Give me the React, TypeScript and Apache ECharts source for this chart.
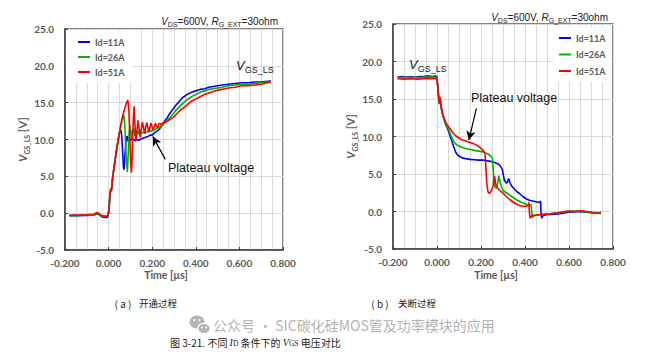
import React, { useEffect, useRef } from "react";
import * as echarts from "echarts";

// ---------- data ----------
const seriesNames = ["Id=11A", "Id=26A", "Id=51A"];
const seriesColors = ["#0000ff", "#00b400", "#ff0000"];

const xAxisMin = -0.2;
const xAxisMax = 0.8;
const xAxisStep = 0.2;
const yAxisMin = -5;
const yAxisMax = 25;
const yAxisStep = 5;

const subplotTags = ["( a )", "( b )"];
const subplotCaptions = ["开通过程", "关断过程"];

// (a) turn-on, time [us], V_GS_LS [V]
const turnOn11A: number[][] = [
  [-0.18, -0.35], [-0.16, -0.3], [-0.14, -0.35], [-0.12, -0.3], [-0.1, -0.3], [-0.08, -0.25],
  [-0.06, -0.2], [-0.05, -0.05], [-0.04, -0.3], [-0.03, -0.5], [-0.02, -0.55], [-0.01, -0.6],
  [-0.003, -0.5], [0.002, 0.5], [0.006, 2.4], [0.01, 3.2], [0.013, 3.0], [0.018, 4.6],
  [0.025, 6.2], [0.033, 7.8], [0.04, 9.2], [0.047, 10.5], [0.052, 11.2], [0.056, 11.3],
  [0.06, 10.6], [0.064, 8.5], [0.068, 6.3], [0.071, 5.9], [0.075, 7.9], [0.08, 9.9],
  [0.085, 10.5], [0.09, 9.7], [0.095, 10.2], [0.1, 9.9], [0.11, 10.1], [0.12, 9.9],
  [0.13, 10.0], [0.14, 9.9], [0.15, 10.1], [0.16, 10.2], [0.17, 10.3], [0.18, 10.4],
  [0.19, 10.6], [0.2, 10.6], [0.21, 10.9], [0.22, 11.1], [0.23, 11.3], [0.24, 11.7],
  [0.25, 12.1], [0.26, 12.6], [0.27, 13.0], [0.28, 13.5], [0.29, 13.9], [0.3, 14.3],
  [0.31, 14.7], [0.32, 15.0], [0.33, 15.4], [0.34, 15.7], [0.36, 16.1], [0.38, 16.4],
  [0.4, 16.6], [0.42, 16.8], [0.44, 16.9], [0.46, 17.1], [0.48, 17.2], [0.5, 17.3],
  [0.52, 17.4], [0.55, 17.5], [0.58, 17.6], [0.61, 17.7], [0.64, 17.7], [0.67, 17.8],
  [0.7, 17.8], [0.73, 17.9], [0.745, 17.95],
];
const turnOn26A: number[][] = [
  [-0.18, -0.3], [-0.15, -0.35], [-0.12, -0.25], [-0.09, -0.3], [-0.06, -0.15], [-0.05, 0.0],
  [-0.04, -0.25], [-0.03, -0.4], [-0.015, -0.45], [-0.003, -0.4], [0.002, 0.6], [0.006, 2.6],
  [0.01, 3.4], [0.013, 3.2], [0.018, 4.8], [0.025, 6.3], [0.033, 7.9], [0.04, 9.3],
  [0.047, 10.6], [0.054, 11.6], [0.06, 12.4], [0.066, 13.2], [0.07, 13.3], [0.074, 12.0],
  [0.078, 9.5], [0.082, 7.0], [0.086, 5.6], [0.09, 8.0], [0.094, 10.8], [0.098, 11.9],
  [0.102, 11.0], [0.106, 10.2], [0.11, 11.2], [0.115, 11.5], [0.12, 10.5], [0.125, 11.3],
  [0.13, 10.6], [0.135, 11.2], [0.14, 10.7], [0.145, 11.1], [0.15, 10.8], [0.16, 11.0],
  [0.17, 10.9], [0.18, 11.1], [0.19, 11.1], [0.2, 11.2], [0.21, 11.3], [0.22, 11.5],
  [0.23, 11.6], [0.24, 11.8], [0.25, 12.0], [0.26, 12.3], [0.27, 12.6], [0.28, 12.9],
  [0.29, 13.3], [0.3, 13.6], [0.31, 14.0], [0.32, 14.3], [0.33, 14.6], [0.34, 14.9],
  [0.36, 15.4], [0.38, 15.8], [0.4, 16.1], [0.42, 16.4], [0.44, 16.6], [0.46, 16.8],
  [0.48, 16.9], [0.5, 17.0], [0.52, 17.1], [0.55, 17.3], [0.58, 17.4], [0.61, 17.5],
  [0.64, 17.5], [0.67, 17.6], [0.7, 17.7], [0.73, 17.8], [0.745, 17.9],
];
const turnOn51A: number[][] = [
  [-0.18, -0.3], [-0.15, -0.25], [-0.12, -0.3], [-0.09, -0.2], [-0.07, -0.2], [-0.055, 0.1],
  [-0.045, 0.0], [-0.035, -0.3], [-0.02, -0.4], [-0.005, -0.4], [0.002, 0.5], [0.006, 2.5],
  [0.01, 3.3], [0.013, 3.1], [0.018, 4.7], [0.025, 6.2], [0.033, 7.8], [0.04, 9.2],
  [0.047, 10.4], [0.055, 11.8], [0.062, 12.9], [0.07, 13.8], [0.078, 14.6], [0.085, 15.2],
  [0.089, 15.3], [0.093, 14.0], [0.097, 10.5], [0.101, 7.0], [0.105, 5.5], [0.109, 8.5],
  [0.113, 12.5], [0.117, 14.5], [0.121, 12.0], [0.125, 9.7], [0.13, 11.0], [0.135, 12.6],
  [0.14, 11.5], [0.145, 10.3], [0.15, 11.4], [0.155, 12.4], [0.16, 11.6], [0.165, 10.8],
  [0.17, 11.6], [0.175, 12.3], [0.18, 11.7], [0.185, 11.0], [0.19, 11.7], [0.195, 12.2],
  [0.2, 11.7], [0.205, 11.3], [0.21, 11.8], [0.215, 12.2], [0.22, 11.8], [0.225, 11.6],
  [0.23, 12.1], [0.235, 12.2], [0.24, 12.0], [0.25, 12.3], [0.26, 12.3], [0.27, 12.5],
  [0.28, 12.7], [0.29, 12.9], [0.3, 13.1], [0.31, 13.4], [0.32, 13.7], [0.33, 14.0],
  [0.34, 14.2], [0.36, 14.7], [0.38, 15.2], [0.4, 15.5], [0.42, 15.8], [0.44, 16.1],
  [0.46, 16.3], [0.48, 16.5], [0.5, 16.7], [0.52, 16.8], [0.55, 17.0], [0.58, 17.1],
  [0.61, 17.3], [0.64, 17.3], [0.67, 17.4], [0.7, 17.5], [0.73, 17.7], [0.745, 17.8],
];

// (b) turn-off
const turnOff11A: number[][] = [
  [-0.18, 17.9], [-0.16, 18.0], [-0.14, 17.9], [-0.12, 18.0], [-0.1, 17.9], [-0.08, 18.0],
  [-0.06, 18.0], [-0.04, 18.1], [-0.02, 18.0], [-0.005, 18.1], [0.0, 17.9], [0.004, 16.5],
  [0.008, 15.0], [0.011, 14.3], [0.014, 15.2], [0.018, 14.0], [0.025, 13.0], [0.035, 12.0],
  [0.045, 11.2], [0.055, 10.5], [0.065, 9.6], [0.075, 8.7], [0.085, 7.9], [0.095, 7.5],
  [0.105, 7.3], [0.115, 7.15], [0.13, 7.05], [0.15, 6.95], [0.17, 6.9], [0.19, 6.85],
  [0.21, 6.85], [0.23, 6.75], [0.25, 6.65], [0.265, 6.5], [0.28, 6.3], [0.29, 6.0],
  [0.297, 5.6], [0.302, 4.8], [0.306, 4.2], [0.31, 4.0], [0.315, 3.8], [0.32, 3.9],
  [0.326, 4.4], [0.331, 3.9], [0.337, 3.5], [0.345, 3.2], [0.355, 2.9], [0.365, 2.6],
  [0.375, 2.4], [0.39, 2.0], [0.405, 1.7], [0.42, 1.5], [0.435, 1.4], [0.45, 1.3],
  [0.46, 1.2], [0.468, 1.3], [0.471, 1.4], [0.473, -0.3], [0.476, -0.9], [0.48, -0.6],
  [0.49, -0.5], [0.5, -0.4], [0.52, -0.4], [0.54, -0.35], [0.56, -0.3], [0.58, -0.2],
  [0.6, -0.1], [0.62, -0.05], [0.64, 0.0], [0.66, -0.05], [0.68, -0.1], [0.7, -0.15],
  [0.72, -0.2], [0.74, -0.15], [0.745, -0.05],
];
const turnOff26A: number[][] = [
  [-0.18, 17.9], [-0.15, 17.85], [-0.12, 17.9], [-0.09, 17.85], [-0.06, 17.9], [-0.03, 17.95],
  [-0.005, 17.9], [0.0, 17.8], [0.004, 16.4], [0.008, 15.0], [0.011, 14.4], [0.014, 15.2],
  [0.018, 14.0], [0.025, 13.0], [0.035, 12.0], [0.045, 11.3], [0.055, 10.8], [0.065, 10.0],
  [0.075, 9.4], [0.085, 9.0], [0.095, 8.8], [0.11, 8.6], [0.13, 8.4], [0.15, 8.3],
  [0.17, 8.15], [0.19, 8.05], [0.21, 7.95], [0.23, 7.7], [0.245, 7.4], [0.252, 7.0],
  [0.256, 5.5], [0.259, 3.9], [0.265, 3.2], [0.27, 3.1], [0.275, 3.6], [0.281, 4.8],
  [0.286, 4.0], [0.292, 3.4], [0.3, 2.8], [0.31, 2.6], [0.32, 2.4], [0.335, 2.1],
  [0.35, 1.8], [0.365, 1.5], [0.38, 1.3], [0.395, 1.1], [0.41, 0.9], [0.42, 0.85],
  [0.428, 0.9], [0.431, -0.3], [0.434, -0.8], [0.44, -0.6], [0.45, -0.5], [0.47, -0.4],
  [0.49, -0.35], [0.51, -0.3], [0.53, -0.25], [0.55, -0.2], [0.57, -0.1], [0.59, 0.0],
  [0.61, 0.05], [0.63, 0.0], [0.65, 0.05], [0.67, -0.05], [0.69, -0.1], [0.71, -0.15],
  [0.73, -0.15], [0.745, -0.2],
];
const turnOff51A: number[][] = [
  [-0.18, 17.7], [-0.15, 17.65], [-0.12, 17.7], [-0.09, 17.65], [-0.06, 17.7], [-0.03, 17.75],
  [-0.005, 17.7], [0.0, 17.6], [0.004, 16.4], [0.008, 15.0], [0.011, 14.5], [0.014, 15.3],
  [0.018, 14.1], [0.025, 13.1], [0.035, 12.2], [0.045, 11.6], [0.055, 11.2], [0.065, 10.8],
  [0.075, 10.4], [0.085, 10.1], [0.095, 9.9], [0.11, 9.6], [0.13, 9.4], [0.15, 9.2],
  [0.165, 9.05], [0.18, 8.85], [0.195, 8.55], [0.21, 8.15], [0.218, 7.7], [0.222, 6.0],
  [0.226, 3.8], [0.232, 2.6], [0.238, 2.4], [0.246, 2.7], [0.254, 3.3], [0.262, 4.7],
  [0.266, 3.8], [0.272, 3.2], [0.28, 3.0], [0.29, 2.7], [0.3, 2.45], [0.315, 2.0],
  [0.33, 1.6], [0.345, 1.3], [0.36, 1.0], [0.375, 0.8], [0.39, 0.7], [0.405, 0.7],
  [0.415, 0.8], [0.418, 1.2], [0.42, -0.2], [0.423, -0.9], [0.43, -0.6], [0.44, -0.5],
  [0.46, -0.45], [0.48, -0.4], [0.5, -0.35], [0.52, -0.3], [0.54, -0.2], [0.56, -0.1],
  [0.58, 0.0], [0.6, 0.05], [0.62, 0.0], [0.64, 0.05], [0.66, 0.1], [0.68, 0.0],
  [0.7, -0.1], [0.72, -0.2], [0.745, -0.25],
];

const turnOnSeries = [turnOn11A, turnOn26A, turnOn51A];
const turnOffSeries = [turnOff11A, turnOff26A, turnOff51A];

// annotation arrows (data coordinates: tail -> head)
const plateauArrowOn = [[0.26, 7.3], [0.203, 10.4]];
const plateauArrowOff = [[0.179, 13.76], [0.145, 9.53]];

// ---------- styles ----------
const GRAY = "#595959";
const GRID_LINE = "#d9d9d9";
const AXIS_FONT = "Lato";

function fmtX(v: number) {
  const n = Math.abs(v) < 1e-9 ? 0 : v;
  return n.toFixed(3);
}
function fmtY(v: number) {
  const n = Math.abs(v) < 1e-9 ? 0 : v;
  return n.toFixed(1);
}

function makeXAxis(gridIndex: number) {
  return {
    type: "value",
    gridIndex,
    min: xAxisMin,
    max: xAxisMax,
    interval: xAxisStep,
    axisLine: { show: true, onZero: false, lineStyle: { color: "#404040", width: 1.5 } },
    axisTick: { show: true, inside: true, length: 3, lineStyle: { color: "#404040" } },
    axisLabel: {
      color: GRAY,
      fontSize: 10,
      fontWeight: "bold",
      fontFamily: AXIS_FONT,
      margin: 8,
      formatter: fmtX,
    },
    splitLine: { show: true, lineStyle: { color: GRID_LINE, width: 1 } },
    minorTick: { show: false, splitNumber: 4 },
    minorSplitLine: { show: true, lineStyle: { color: GRID_LINE, width: 1 } },
  };
}

function makeYAxis(gridIndex: number) {
  return {
    type: "value",
    gridIndex,
    min: yAxisMin,
    max: yAxisMax,
    interval: yAxisStep,
    axisLine: { show: true, onZero: false, lineStyle: { color: "#404040", width: 1.5 } },
    axisTick: { show: true, inside: true, length: 3, lineStyle: { color: "#404040" } },
    axisLabel: {
      color: GRAY,
      fontSize: 10,
      fontWeight: "bold",
      fontFamily: AXIS_FONT,
      margin: 11,
      formatter: fmtY,
    },
    splitLine: { show: true, lineStyle: { color: GRID_LINE, width: 1 } },
    name: "{v|V}{s|GS_LS}{n| [V]}",
    nameLocation: "middle",
    nameRotate: 90,
    nameGap: 33,
    nameTextStyle: {
      rich: {
        v: { fontSize: 11, fontStyle: "italic", fontWeight: "bold", color: GRAY, fontFamily: AXIS_FONT, lineHeight: 15 },
        s: { fontSize: 7, fontWeight: "bold", color: GRAY, fontFamily: AXIS_FONT, lineHeight: 8, verticalAlign: "bottom" },
        n: { fontSize: 11, fontWeight: "bold", color: GRAY, fontFamily: AXIS_FONT, lineHeight: 15 },
      },
    },
  };
}

function subRich(base: number, sub: number, color: string, family: string, lh: number) {
  return {
    i: { fontSize: base, fontStyle: "italic", fontFamily: family, fill: color, color, lineHeight: lh },
    s: { fontSize: sub, fontFamily: family, fill: color, color, lineHeight: sub + 1, verticalAlign: "bottom" },
    n: { fontSize: base, fontFamily: family, fill: color, color, lineHeight: lh },
  };
}

function makeSeries(groups: number[][][], axisIndex: number, arrow: number[][]) {
  return groups.map((data, k) => {
    const s: any = {
      type: "line",
      name: seriesNames[k],
      xAxisIndex: axisIndex,
      yAxisIndex: axisIndex,
      data,
      symbol: "none",
      showSymbol: false,
      smooth: false,
      lineStyle: { width: 1.6, color: seriesColors[k] },
      itemStyle: { color: seriesColors[k] },
      z: 3 + k,
    };
    if (k === groups.length - 1) {
      s.markLine = {
        silent: true,
        symbol: ["none", "arrow"],
        symbolSize: [7, 9],
        lineStyle: { color: "#000", width: 1.2, type: "solid" },
        label: { show: false },
        emphasis: { disabled: true },
        data: [[{ coord: arrow[0] }, { coord: arrow[1] }]],
      };
    }
    return s;
  });
}

const legendBase = {
  orient: "vertical",
  icon: "rect",
  itemWidth: 12,
  itemHeight: 2,
  backgroundColor: "#fff",
  selectedMode: false,
  textStyle: { color: GRAY, fontSize: 9, fontWeight: "bold", fontFamily: AXIS_FONT, lineHeight: 12 },
  data: seriesNames,
};

function buildOption() {
  const titleRich = subRich(10, 7, "#1a1a1a", "Liberation Sans", 14);
  const labelRich = subRich(13, 9, "#1a1a1a", "Liberation Sans", 18);
  const titleText = "{i|V}{s|DS}{n|=600V, }{i|R}{s|G_EXT}{n|=30ohm}";
  const vgsText = "{i|V}{s|GS_LS}";
  const axisNameStyle = { fill: GRAY, fontSize: 10.5, fontWeight: "bold", fontFamily: AXIS_FONT };
  const captionFont = "Noto Sans CJK SC";

  return {
    animation: false,
    backgroundColor: "#fff",
    grid: [
      { left: 65, top: 29, width: 218, height: 221, show: true, borderColor: "#595959", borderWidth: 1.5, containLabel: false },
      { left: 393, top: 24, width: 220, height: 225, show: true, borderColor: "#595959", borderWidth: 1.5, containLabel: false },
    ],
    xAxis: [makeXAxis(0), makeXAxis(1)],
    yAxis: [makeYAxis(0), makeYAxis(1)],
    legend: [
      { ...legendBase, left: 66, top: 31, padding: [5, 8, 5, 12], itemGap: 3 },
      { ...legendBase, left: 553, top: 27, padding: [5, 6, 5, 6], itemGap: 4.5 },
    ],
    series: [...makeSeries(turnOnSeries, 0, plateauArrowOn), ...makeSeries(turnOffSeries, 1, plateauArrowOff)],
    graphic: [
      // condition titles
      { type: "text", z: 10, style: { x: 278, y: 21, text: titleText, rich: titleRich, align: "right", verticalAlign: "middle" } },
      { type: "text", z: 10, style: { x: 608, y: 17, text: titleText, rich: titleRich, align: "right", verticalAlign: "middle" } },
      // V_GS_LS labels
      { type: "text", z: 10, style: { x: 236, y: 65, text: vgsText, rich: labelRich, align: "left", verticalAlign: "middle" } },
      { type: "text", z: 10, style: { x: 409, y: 64, text: vgsText, rich: labelRich, align: "left", verticalAlign: "middle" } },
      // plateau labels
      { type: "text", z: 10, style: { x: 168, y: 168, text: "Plateau voltage", fill: "#111", fontSize: 12.5, fontFamily: "Liberation Sans", align: "left", verticalAlign: "middle" } },
      { type: "text", z: 10, style: { x: 471, y: 98, text: "Plateau voltage", fill: "#111", fontSize: 12.5, fontFamily: "Liberation Sans", align: "left", verticalAlign: "middle" } },
      // x axis names
      { type: "text", z: 10, style: { x: 166, y: 275, text: "Time [µs]", ...axisNameStyle, align: "center", verticalAlign: "middle" } },
      { type: "text", z: 10, style: { x: 496, y: 275, text: "Time [µs]", ...axisNameStyle, align: "center", verticalAlign: "middle" } },
      // subplot captions
      { type: "text", z: 10, style: { x: 123, y: 303, text: subplotTags[0], fill: "#222", fontSize: 10, fontFamily: captionFont, align: "center", verticalAlign: "middle" } },
      { type: "text", z: 10, style: { x: 139, y: 303, text: subplotCaptions[0], fill: "#222", fontSize: 9.5, fontFamily: captionFont, align: "left", verticalAlign: "middle" } },
      { type: "text", z: 10, style: { x: 380, y: 303, text: subplotTags[1], fill: "#222", fontSize: 10, fontFamily: captionFont, align: "center", verticalAlign: "middle" } },
      { type: "text", z: 10, style: { x: 398, y: 303, text: subplotCaptions[1], fill: "#222", fontSize: 9.5, fontFamily: captionFont, align: "left", verticalAlign: "middle" } },
      // watermark icon
      { type: "ellipse", z: 10, shape: { cx: 197, cy: 322, rx: 7.5, ry: 6.5 }, style: { fill: "#b5b5b5" } },
      { type: "circle", z: 11, shape: { cx: 194.3, cy: 320, r: 1.1 }, style: { fill: "#fff" } },
      { type: "circle", z: 11, shape: { cx: 199.5, cy: 320, r: 1.1 }, style: { fill: "#fff" } },
      { type: "ellipse", z: 12, shape: { cx: 204, cy: 328.5, rx: 6.2, ry: 5.2 }, style: { fill: "#b5b5b5", stroke: "#fff", lineWidth: 1.3 } },
      { type: "circle", z: 13, shape: { cx: 202, cy: 327.5, r: 0.9 }, style: { fill: "#fff" } },
      { type: "circle", z: 13, shape: { cx: 206.2, cy: 327.5, r: 0.9 }, style: { fill: "#fff" } },
      // watermark text
      { type: "text", z: 10, style: { x: 213, y: 324.5, text: "公众号 · SIC碳化硅MOS管及功率模块的应用", fill: "#b3b3b3", fontSize: 14, lineHeight: 16, fontFamily: captionFont, align: "left", verticalAlign: "middle" } },
      // figure caption
      {
        type: "text",
        z: 10,
        style: {
          x: 170,
          y: 342,
          text: "{n|图 3-21. 不同 }{i|I}{s|D}{n| 条件下的 }{i|V}{s|GS}{n| 电压对比}",
          align: "left",
          verticalAlign: "middle",
          rich: {
            n: { fontSize: 10, fontFamily: "Noto Sans CJK SC", fill: "#222", lineHeight: 11 },
            i: { fontSize: 10, fontStyle: "italic", fontFamily: "Liberation Serif", fill: "#222", lineHeight: 11 },
            s: { fontSize: 7.5, fontFamily: "Liberation Serif", fill: "#222", lineHeight: 8, verticalAlign: "bottom" },
          },
        },
      },
    ],
  };
}

export default function App() {
  const ref = useRef<HTMLDivElement>(null);
  useEffect(() => {
    if (!ref.current) return;
    const chart = echarts.init(ref.current, undefined, { renderer: "svg" });
    chart.setOption(buildOption() as any);
    return () => chart.dispose();
  }, []);
  return (
    <div
      ref={ref}
      style={{ position: "absolute", left: 0, top: 0, width: 667, height: 352, background: "#fff" }}
    />
  );
}
